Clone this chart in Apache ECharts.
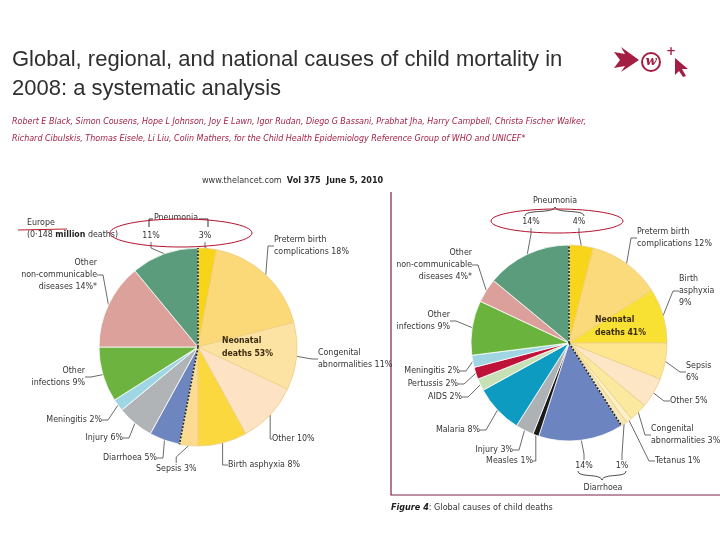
<!DOCTYPE html>
<html><head><meta charset="utf-8">
<script src="https://cdn.jsdelivr.net/npm/echarts@6.0.0/dist/echarts.min.js"></script>
<style>html,body{margin:0;padding:0;background:#fff}#c{width:720px;height:540px}</style>
</head><body><div id="c"></div>
<script>
// ---------- Europe (left pie) ----------
const europeCauses = ['Pneumonia (neonatal)','Preterm birth complications','Congenital abnormalities','Other (neonatal)','Birth asphyxia','Sepsis','Diarrhoea','Injury','Meningitis','Other infections','Other non-communicable diseases','Pneumonia'];
const europeValues = [3,18,11,10,8,3,5,6,2,9,14,11];
const europeLabels = ['3%','Preterm birth\ncomplications 18%','Congenital\nabnormalities 11%','Other 10%','Birth asphyxia 8%','Sepsis 3%','Diarrhoea 5%','Injury 6%','Meningitis 2%','Other\ninfections 9%','Other\nnon-communicable\ndiseases 14%*','11%'];
const europeColors = ['#f7d417','#fbd978','#fde3a3','#fde2c4','#fcd83f','#fbdb8f','#6e86c0','#b1b4b6','#9fd6e4','#6cb33f','#dda19c','#5a9c7c'];
const europeNeonatalCount = 6;
// ---------- Global (right pie) ----------
const globalCauses = ['Pneumonia (neonatal)','Preterm birth complications','Birth asphyxia','Sepsis','Other (neonatal)','Congenital abnormalities','Tetanus','Diarrhoea (neonatal)','Diarrhoea','Measles','Injury','Malaria','AIDS','Pertussis','Meningitis','Other infections','Other non-communicable diseases','Pneumonia'];
const globalValues = [4,12,9,6,5,3,1,1,14,1,3,8,2,2,2,9,4,14];
const globalLabels = ['4%','Preterm birth\ncomplications 12%','Birth\nasphyxia\n9%','Sepsis\n6%','Other 5%','Congenital\nabnormalities 3%','Tetanus 1%','1%','14%','Measles 1%','Injury 3%','Malaria 8%','AIDS 2%','Pertussis 2%','Meningitis 2%','Other\ninfections 9%','Other\nnon-communicable\ndiseases 4%*','14%'];
const globalColors = ['#f8d51a','#fbda7b','#f9e133','#fde68f','#fde6c5','#fbe9a0','#fdefc6','#f6e7b7','#6c85c1','#1a1a1a','#aeb2b4','#0d9bc1','#c6e1b5','#bf1238','#a0d5e4','#6ab43e','#dba09b','#5a9c7c'];
const globalNeonatalCount = 8;

// ---------- layout (positions, not data) ----------
const FONT = "'Liberation Sans Narrow','DejaVu Sans Condensed','Roboto',sans-serif";
const LFS = 8.8;
const leftPie = {cx:198, cy:347, r:99};
const rightPie = {cx:569, cy:343, r:98};
const europeLabelPos = [[205,236,'center'],[274,246,'left'],[318,359,'left'],[272,439,'left'],[228,465,'left'],[156,469,'left'],[157,458,'right'],[123,438,'right'],[102,420,'right'],[85,377,'right'],[97,275,'right'],[151,236,'center']];
const globalLabelPos = [[579,222,'center'],[637,238,'left'],[679,291,'left'],[686,372,'left'],[670,401,'left'],[651,435,'left'],[655,461,'left'],[622,466,'center'],[584,466,'center'],[533,461,'right'],[513,450,'right'],[480,430,'right'],[462,397,'right'],[458,384,'right'],[460,371,'right'],[450,321,'right'],[472,265,'right'],[531,222,'center']];

function buildData(names, values, colors, neoCount){
  return names.map((n,i)=>({name:n, value:values[i], itemStyle:{color:colors[i], borderColor: i<neoCount ? '#eccf86' : '#ffffff', borderWidth: 0.8}}));
}
function pieSeries(p, names, values, colors, labels, pos, neoCount){
  return {
    type:'pie', center:[p.cx,p.cy], radius:[0,p.r], startAngle:90, clockwise:true,
    avoidLabelOverlap:false, silent:true, animation:false,
    data: buildData(names, values, colors, neoCount),
    label:{show:true, position:'outside', fontFamily:FONT, fontSize:LFS, color:'#333', lineHeight:12,
      formatter: (prm)=>labels[prm.dataIndex]},
    labelLine:{show:true, length:6, length2:6, smooth:false, lineStyle:{color:'#444', width:0.8}},
    labelLayout: (prm)=>{ const q = pos[prm.dataIndex]; return {x:q[0], y:q[1], align:q[2], verticalAlign:'middle'}; }
  };
}
function radialEnd(p, frac){
  const a = frac*2*Math.PI;
  return [p.cx + p.r*Math.sin(a), p.cy - p.r*Math.cos(a)];
}
function sum(a){return a.reduce((s,v)=>s+v,0);}
const euFrac = sum(europeValues.slice(0,europeNeonatalCount))/sum(europeValues);
const glFrac = sum(globalValues.slice(0,globalNeonatalCount))/sum(globalValues);

function dashed(p, frac){
  const e = radialEnd(p, frac);
  return {type:'line', z:10, shape:{x1:p.cx,y1:p.cy,x2:e[0],y2:e[1]}, style:{stroke:'#222', lineWidth:1.6, lineDash:[2,1.5]}};
}
function txt(x,y,text,o){
  return {type:'text', x:x, y:y, z:20, style:Object.assign({text:text, fontFamily:FONT, fontSize:LFS, fill:'#333', verticalAlign:'middle', align:'left'}, o||{})};
}
const RED = '#a31e43';
const chart = echarts.init(document.getElementById('c'), null, {renderer:'canvas'});
chart.setOption({
  backgroundColor:'#ffffff',
  animation:false,
  series:[
    pieSeries(leftPie, europeCauses, europeValues, europeColors, europeLabels, europeLabelPos, europeNeonatalCount),
    pieSeries(rightPie, globalCauses, globalValues, globalColors, globalLabels, globalLabelPos, globalNeonatalCount)
  ],
  graphic:[
    // title
    {type:'text', x:12, y:60, style:{text:'Global, regional, and national causes of child mortality in', fontFamily:'Liberation Sans', fontSize:22, fill:'#2f2f2f', verticalAlign:'middle'}},
    {type:'text', x:12, y:89, style:{text:'2008: a systematic analysis', fontFamily:'Liberation Sans', fontSize:22, fill:'#2f2f2f', verticalAlign:'middle'}},
    {type:'text', x:12, y:122, style:{text:'Robert E Black, Simon Cousens, Hope L Johnson, Joy E Lawn, Igor Rudan, Diego G Bassani, Prabhat Jha, Harry Campbell, Christa Fischer Walker,', fontFamily:FONT, fontSize:8.9, fontStyle:'italic', fill:RED, verticalAlign:'middle'}},
    {type:'text', x:12, y:139, style:{text:'Richard Cibulskis, Thomas Eisele, Li Liu, Colin Mathers, for the Child Health Epidemiology Reference Group of WHO and UNICEF*', fontFamily:FONT, fontSize:8.9, fontStyle:'italic', fill:RED, verticalAlign:'middle'}},
    // logo
    {type:'polygon', shape:{points:[[614,52],[625,54],[621,47],[639,60],[621,72],[625,66],[614,68],[620,60]]}, style:{fill:RED}},
    {type:'circle', shape:{cx:651,cy:62,r:9}, style:{fill:'none', stroke:RED, lineWidth:2}},
    {type:'text', x:651, y:62, style:{text:'w', fontFamily:'DejaVu Serif', fontStyle:'italic', fontWeight:'bold', fontSize:13, fill:RED, align:'center', verticalAlign:'middle'}},
    {type:'text', x:671, y:52, style:{text:'+', fontFamily:'DejaVu Sans', fontWeight:'bold', fontSize:12, fill:RED, align:'center', verticalAlign:'middle'}},
    {type:'polygon', shape:{points:[[675,58],[688,69],[682,69],[686,76],[683,77],[679,71],[675,75]]}, style:{fill:RED}},
    // source line
    {type:'text', x:202, y:181, style:{text:'www.thelancet.com  {b|Vol 375  June 5, 2010}', fontFamily:FONT, fontSize:9, fill:'#333', verticalAlign:'middle', rich:{b:{fontFamily:FONT, fontSize:9, fontWeight:'bold', fill:'#222'}}}},
    // Europe heading
    txt(27,223,'Europe'),
    {type:'text', x:27, y:235, z:20, style:{text:'(0·148 {b|million} deaths)', fontFamily:FONT, fontSize:LFS, fill:'#333', verticalAlign:'middle', rich:{b:{fontFamily:FONT, fontSize:LFS, fontWeight:'bold', fill:'#222'}}}},
    {type:'line', z:21, shape:{x1:18,y1:230,x2:67,y2:229}, style:{stroke:'#c0202a', lineWidth:1.2}},
    // left pneumonia bracket
    {type:'polyline', shape:{points:[[149,227],[149,219],[153,219]]}, style:{stroke:'#333', lineWidth:1, fill:'none'}},
    {type:'polyline', shape:{points:[[199,219],[208,219],[208,227]]}, style:{stroke:'#333', lineWidth:1, fill:'none'}},
    txt(176,218,'Pneumonia',{align:'center'}),
    {type:'ellipse', z:30, shape:{cx:181,cy:233,rx:71,ry:14}, style:{fill:'none', stroke:'#b3122e', lineWidth:1}},
    // neonatal labels
    txt(222,347,'Neonatal\ndeaths 53%',{fontWeight:'bold', fontSize:8.6, lineHeight:13, fill:'#3a2a10'}),
    txt(595,326,'Neonatal\ndeaths 41%',{fontWeight:'bold', fontSize:8.6, lineHeight:13, fill:'#3a2a10'}),
    // dashed neonatal boundaries
    dashed(leftPie,0), dashed(leftPie,euFrac),
    dashed(rightPie,0), dashed(rightPie,glFrac),
    // right pneumonia brace
    {type:'bezierCurve', shape:{x1:525,y1:216,cpx1:525,cpy1:209,cpx2:553,cpy2:214,x2:555,y2:207}, style:{stroke:'#333', lineWidth:0.9, fill:'none'}},
    {type:'bezierCurve', shape:{x1:555,y1:207,cpx1:557,cpy1:214,cpx2:584,cpy2:209,x2:584,y2:216}, style:{stroke:'#333', lineWidth:0.9, fill:'none'}},
    txt(555,201,'Pneumonia',{align:'center'}),
    {type:'ellipse', z:30, shape:{cx:557,cy:221,rx:66,ry:12}, style:{fill:'none', stroke:'#b3122e', lineWidth:1}},
    // diarrhoea brace
    {type:'bezierCurve', shape:{x1:578,y1:471,cpx1:578,cpy1:478,cpx2:600,cpy2:473,x2:602,y2:480}, style:{stroke:'#333', lineWidth:0.9, fill:'none'}},
    {type:'bezierCurve', shape:{x1:602,y1:480,cpx1:604,cpy1:473,cpx2:626,cpy2:478,x2:626,y2:471}, style:{stroke:'#333', lineWidth:0.9, fill:'none'}},
    txt(603,488,'Diarrhoea',{align:'center'}),
    // figure frame
    {type:'polyline', shape:{points:[[391,192],[391,495],[720,495]]}, style:{stroke:'#7b2346', lineWidth:1.2, fill:'none'}},
    {type:'text', x:391, y:508, style:{text:'{b|Figure 4}: Global causes of child deaths', fontFamily:FONT, fontSize:9, fill:'#333', verticalAlign:'middle', rich:{b:{fontFamily:FONT, fontSize:9, fontWeight:'bold', fontStyle:'italic', fill:'#222'}}}}
  ]
});
</script></body></html>
